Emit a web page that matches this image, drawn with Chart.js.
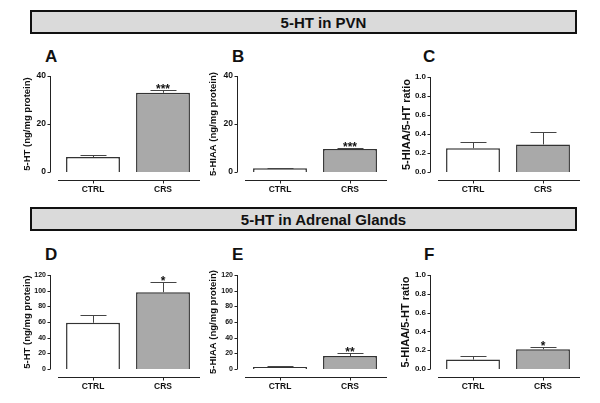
<!DOCTYPE html>
<html>
<head>
<meta charset="utf-8">
<script src="https://cdn.jsdelivr.net/npm/chart.js@4"></script>
<style>
  body { margin: 0; width: 600px; height: 403px; background: #fff; position: relative; overflow: hidden; font-family: "Liberation Sans", Arial, sans-serif; }
  canvas { position: absolute; }
  .hdr { position: absolute; left: 30px; width: 543px; height: 20px; border: 2px solid #111; background: #dadada; }
  .hdr span { position: absolute; left: 40px; right: 0; top: 0; bottom: 0; display: flex; align-items: center; justify-content: center; font-weight: bold; font-size: 15px; color: #111; }
  .lbl { position: absolute; font-weight: bold; font-size: 17px; line-height: 17px; color: #111; }
</style>
</head>
<body>
<div class="hdr" style="top:10px"><span>5-HT in PVN</span></div>
<div class="hdr" style="top:207px"><span>5-HT in Adrenal Glands</span></div>
<div class="lbl" style="left:45px;top:48px">A</div>
<div class="lbl" style="left:232px;top:48px">B</div>
<div class="lbl" style="left:423px;top:48px">C</div>
<div class="lbl" style="left:45px;top:246px">D</div>
<div class="lbl" style="left:232px;top:246px">E</div>
<div class="lbl" style="left:424px;top:246px">F</div>
<canvas id="chart-a" width="200" height="160" style="left:0;top:40px"></canvas>
<canvas id="chart-b" width="195" height="160" style="left:200px;top:40px"></canvas>
<canvas id="chart-c" width="205" height="160" style="left:395px;top:40px"></canvas>
<canvas id="chart-d" width="200" height="167" style="left:0;top:236px"></canvas>
<canvas id="chart-e" width="195" height="167" style="left:200px;top:236px"></canvas>
<canvas id="chart-f" width="205" height="167" style="left:395px;top:236px"></canvas>
<script>
// groups
const groups = ["CTRL", "CRS"];

// PVN
const pvn5ht = [6.2, 33.0];
const pvn5htSem = [0.8, 1.2];
const pvn5htStars = ["", "***"];
const pvnHiaa = [1.6, 9.6];
const pvnHiaaSem = [0.2, 0.6];
const pvnHiaaStars = ["", "***"];
const pvnRatio = [0.25, 0.29];
const pvnRatioSem = [0.07, 0.13];
const pvnRatioStars = ["", ""];

// adrenal glands
const adr5ht = [59, 98];
const adr5htSem = [10, 13];
const adr5htStars = ["", "*"];
const adrHiaa = [2.5, 16.5];
const adrHiaaSem = [0.7, 4.5];
const adrHiaaStars = ["", "**"];
const adrRatio = [0.10, 0.21];
const adrRatioSem = [0.035, 0.025];
const adrRatioStars = ["", "*"];

const FONT = "'Liberation Sans', Arial, sans-serif";

// prism style detached axes + error bars + stars
const prismAxes = {
  id: "prismAxes",
  afterDatasetsDraw(chart) {
    const { ctx, chartArea: a, scales: { x, y } } = chart;
    const ds = chart.data.datasets[0];
    ctx.save();
    ctx.strokeStyle = "#222";
    ctx.lineWidth = 1;
    ctx.beginPath();
    const ax = Math.round(a.left - 8) + 0.5;
    ctx.moveTo(ax, y.getPixelForValue(y.max));
    ctx.lineTo(ax, y.getPixelForValue(0));
    y.ticks.forEach(t => {
      const py = Math.round(y.getPixelForValue(t.value)) + 0.5;
      ctx.moveTo(ax - 3, py);
      ctx.lineTo(ax, py);
    });
    const bx = Math.round(a.bottom + 8) + 0.5;
    ctx.moveTo(a.left, bx);
    ctx.lineTo(a.right + 2, bx);
    groups.forEach((g, i) => {
      const px = Math.round(x.getPixelForValue(i)) + 0.5;
      ctx.moveTo(px, bx);
      ctx.lineTo(px, bx + 3);
    });
    ctx.stroke();

    ctx.strokeStyle = "#444";
    ctx.fillStyle = "#111";
    ctx.font = "bold 12px " + FONT;
    ctx.textAlign = "center";
    ctx.textBaseline = "alphabetic";
    chart.getDatasetMeta(0).data.forEach((bar, i) => {
      const px = Math.round(bar.x) + 0.5;
      const top = Math.round(y.getPixelForValue(ds.data[i] + ds.sem[i])) + 0.5;
      ctx.beginPath();
      ctx.moveTo(px, bar.y);
      ctx.lineTo(px, top);
      ctx.moveTo(px - 13, top);
      ctx.lineTo(px + 13, top);
      ctx.stroke();
      if (ds.stars[i]) ctx.fillText(ds.stars[i], bar.x, top + 2);
    });
    ctx.restore();
  }
};

function makePanel(id, box, values, sem, stars, yMax, yStep, yTitle, f) {
  const el = document.getElementById(id);
  return new Chart(el.getContext("2d"), {
    type: "bar",
    data: {
      labels: groups,
      datasets: [{
        data: values,
        sem: sem,
        stars: stars,
        backgroundColor: ["#ffffff", "#a9a9a9"],
        borderColor: "#333",
        borderWidth: 1.5,
        borderSkipped: "bottom",
        barPercentage: 0.77,
        categoryPercentage: 1
      }]
    },
    options: {
      responsive: false,
      animation: false,
      events: [],
      layout: { padding: { left: 0, top: box.top, right: box.right, bottom: 0 } },
      plugins: { legend: { display: false }, tooltip: { enabled: false } },
      scales: {
        x: {
          grid: { display: false, drawTicks: false },
          border: { display: false },
          ticks: { color: "#111", padding: 13, font: { family: FONT, size: 8.5, weight: "bold" } },
          afterFit: s => { s.height = box.bottom; }
        },
        y: {
          min: 0, max: yMax,
          grid: { display: false, drawTicks: false },
          border: { display: false },
          ticks: {
            stepSize: yStep, color: "#111", padding: 12,
            font: { family: FONT, size: f.tick, weight: "bold" },
            callback: v => yStep < 1 ? v.toFixed(1) : v
          },
          title: {
            display: true, text: yTitle, color: "#111",
            font: { family: FONT, size: f.title, weight: "bold" },
            padding: { top: box.titleX - f.title * 0.6, bottom: 0 }
          },
          afterFit: s => { s.width = box.left; }
        }
      }
    },
    plugins: [prismAxes]
  });
}

// box: left = y scale width, top/right padding, bottom = x scale height, titleX
makePanel("chart-a", { left: 58, top: 36, right: 2, bottom: 28, titleX: 27 }, pvn5ht, pvn5htSem, pvn5htStars, 40, 20, "5-HT (ng/mg protein)", { tick: 8.5, title: 9.5 });
makePanel("chart-b", { left: 45, top: 36, right: 10, bottom: 28, titleX: 13 }, pvnHiaa, pvnHiaaSem, pvnHiaaStars, 40, 20, "5-HIAA (ng/mg protein)", { tick: 8.5, title: 9.5 });
makePanel("chart-c", { left: 43, top: 37, right: 22, bottom: 28, titleX: 12 }, pvnRatio, pvnRatioSem, pvnRatioStars, 1, 0.2, "5-HIAA/5-HT ratio", { tick: 8, title: 11 });
makePanel("chart-d", { left: 58, top: 39, right: 2, bottom: 34, titleX: 27 }, adr5ht, adr5htSem, adr5htStars, 120, 20, "5-HT (ng/mg protein)", { tick: 7, title: 9.5 });
makePanel("chart-e", { left: 45, top: 39, right: 10, bottom: 34, titleX: 13 }, adrHiaa, adrHiaaSem, adrHiaaStars, 120, 20, "5-HIAA (ng/mg protein)", { tick: 7, title: 9.5 });
makePanel("chart-f", { left: 43, top: 39, right: 22, bottom: 34, titleX: 11 }, adrRatio, adrRatioSem, adrRatioStars, 1, 0.2, "5-HIAA/5-HT ratio", { tick: 8, title: 11 });
</script>
</body>
</html>
